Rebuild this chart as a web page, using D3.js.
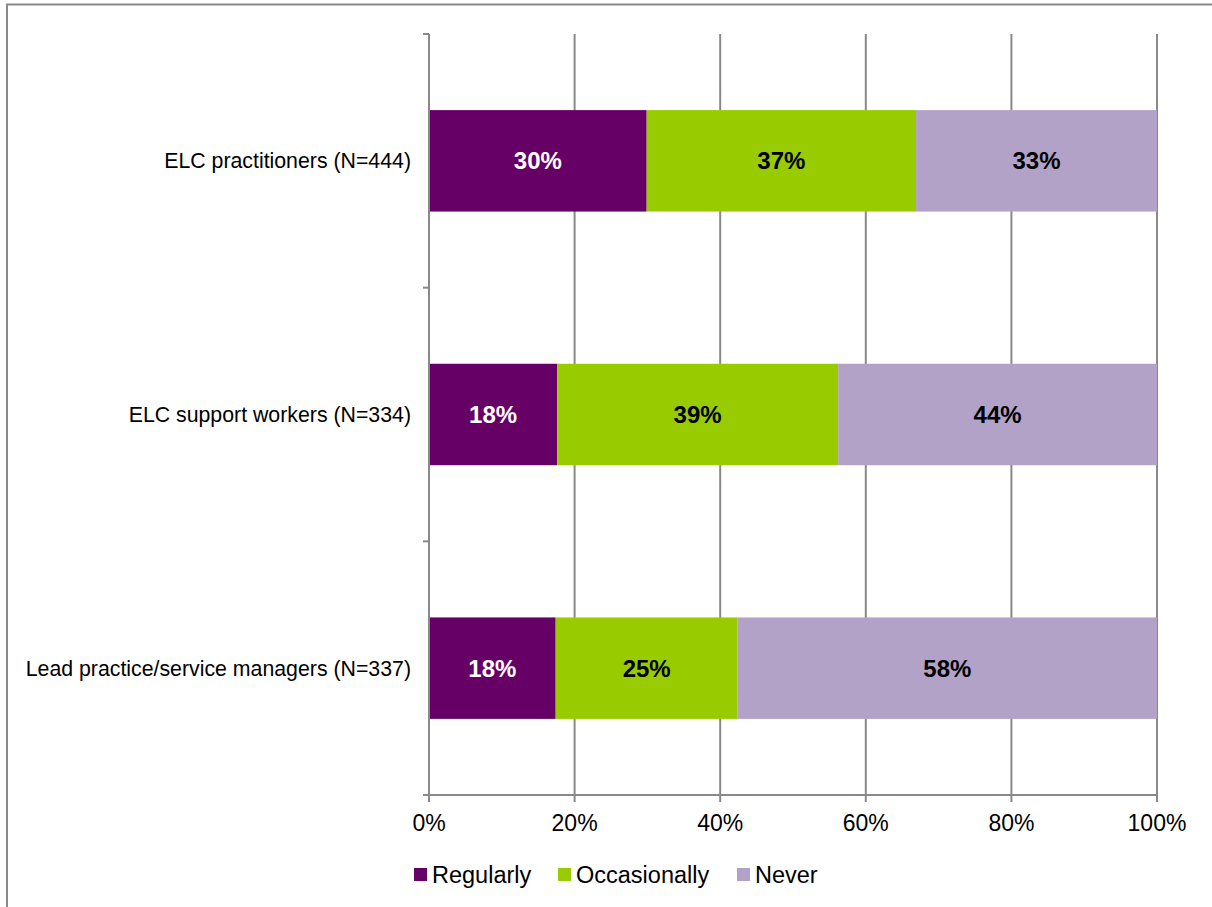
<!DOCTYPE html>
<html><head><meta charset="utf-8">
<script src="https://cdn.jsdelivr.net/npm/d3@7"></script>
<style>body{margin:0;background:#fff}svg{display:block}text{font-family:Arial,"Liberation Sans",sans-serif}</style>
</head><body>
<svg id="c" width="1212" height="907"></svg>
<script>
const categories = ["ELC practitioners (N=444)", "ELC support workers (N=334)", "Lead practice/service managers (N=337)"];
const seriesNames = ["Regularly", "Occasionally", "Never"];
const regularly = [29.9, 17.6, 17.4];
const occasionally = [37.0, 38.6, 25.0];
const never = [33.1, 43.8, 57.6];
const labelsRegularly = ["30%", "18%", "18%"];
const labelsOccasionally = ["37%", "39%", "25%"];
const labelsNever = ["33%", "44%", "58%"];
const xTicks = [0, 20, 40, 60, 80, 100];
const colors = ["#660066", "#99cc00", "#b3a2c7"];
const textColors = ["#ffffff", "#000000", "#000000"];

const svg = d3.select("#c");
svg.append("rect").attr("x", 7).attr("y", 4.5).attr("width", 1220).attr("height", 920)
  .attr("fill", "none").attr("stroke", "#898989").attr("stroke-width", 2);

const L = 429, R = 1157, T = 34, B = 795;
const x = d3.scaleLinear().domain([0, 100]).range([L, R]);
const y = d3.scaleBand().domain(categories).range([T, B]).paddingInner(0.6).paddingOuter(0.3);

// gridlines
svg.append("g").selectAll("line").data(xTicks.slice(1)).join("line")
  .attr("x1", d => x(d)).attr("x2", d => x(d)).attr("y1", T).attr("y2", B)
  .attr("stroke", "#898989").attr("stroke-width", 2);

const data = categories.map((c, i) => ({cat: c, vals: [regularly[i], occasionally[i], never[i]], labels: [labelsRegularly[i], labelsOccasionally[i], labelsNever[i]]}));
const g = svg.append("g");
data.forEach(d => {
  let acc = 0;
  d.vals.forEach((v, k) => {
    const x0 = x(acc), x1 = x(acc + v);
    g.append("rect").attr("x", x0).attr("y", y(d.cat)).attr("width", x1 - x0).attr("height", y.bandwidth()).attr("fill", colors[k]);
    g.append("text").attr("x", (x0 + x1) / 2).attr("y", y(d.cat) + y.bandwidth() / 2).attr("dy", "0.35em")
      .attr("text-anchor", "middle").attr("font-size", 24).attr("font-weight", "bold").attr("fill", textColors[k]).text(d.labels[k]);
    acc += v;
  });
});

// y axis
const yAxisG = svg.append("g");
yAxisG.append("line").attr("x1", L).attr("x2", L).attr("y1", T).attr("y2", B).attr("stroke", "#898989").attr("stroke-width", 2);
const step = (B - T) / categories.length;
d3.range(categories.length + 1).forEach(i => {
  yAxisG.append("line").attr("x1", L - 6).attr("x2", L).attr("y1", T + i * step).attr("y2", T + i * step).attr("stroke", "#898989").attr("stroke-width", 2);
});
yAxisG.selectAll("text").data(categories).join("text")
  .attr("x", 411).attr("y", d => y(d) + y.bandwidth() / 2).attr("dy", "0.35em")
  .attr("text-anchor", "end").attr("font-size", 21.3).attr("fill", "#000").text(d => d);

// x axis
const xAxisG = svg.append("g");
xAxisG.append("line").attr("x1", L - 6).attr("x2", R).attr("y1", B).attr("y2", B).attr("stroke", "#898989").attr("stroke-width", 2);
xAxisG.selectAll("line.t").data(xTicks).join("line").attr("class", "t")
  .attr("x1", d => x(d)).attr("x2", d => x(d)).attr("y1", B).attr("y2", B + 7).attr("stroke", "#898989").attr("stroke-width", 2);
xAxisG.selectAll("text").data(xTicks).join("text")
  .attr("x", d => x(d)).attr("y", 831).attr("text-anchor", "middle").attr("font-size", 23).attr("fill", "#000").text(d => d + "%");

// legend
const legendX = [414, 558, 737];
const lg = svg.append("g");
seriesNames.forEach((s, k) => {
  lg.append("rect").attr("x", legendX[k]).attr("y", 868).attr("width", 13).attr("height", 13).attr("fill", colors[k]);
  lg.append("text").attr("x", legendX[k] + 18).attr("y", 883).attr("font-size", 23.5).attr("fill", "#000").text(s);
});
</script>
</body></html>
